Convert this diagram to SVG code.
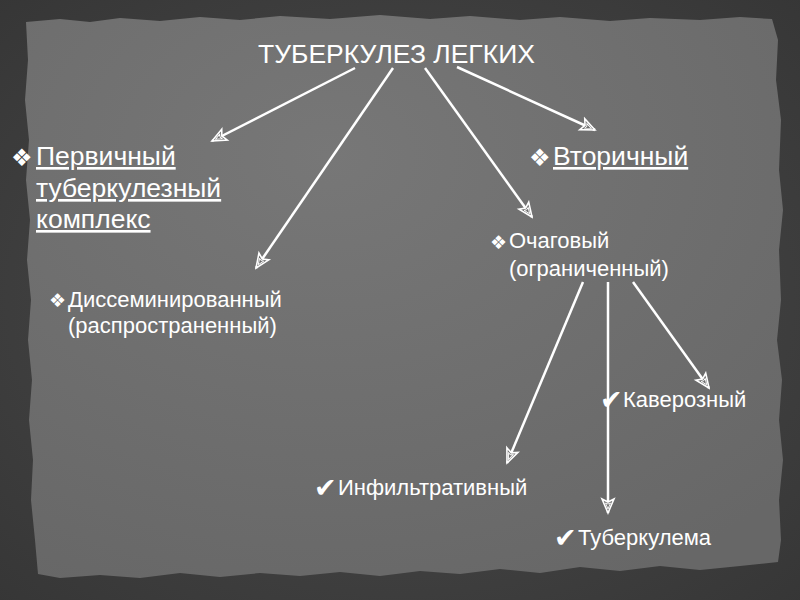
<svg xmlns="http://www.w3.org/2000/svg" width="800" height="600" viewBox="0 0 800 600">
<defs>
<radialGradient id="paper" cx="0.4" cy="0.25" r="0.85">
<stop offset="0" stop-color="#777777"/>
<stop offset="1" stop-color="#676767"/>
</radialGradient>
<radialGradient id="frame" cx="0.5" cy="0.5" r="0.75">
<stop offset="0" stop-color="#4c4c4c"/>
<stop offset="1" stop-color="#353535"/>
</radialGradient>
<marker id="arr" viewBox="-16 -8 18 16" refX="0" refY="0" markerWidth="18" markerHeight="16" markerUnits="userSpaceOnUse" orient="auto">
<path d="M0,0 L-14,-6 L-11,0 L-14,6 Z" fill="#6e6e6e" stroke="#ffffff" stroke-width="1.6" stroke-linejoin="miter"/>
<path d="M-4,0 L-10,-2.5 L-9,0 L-10,2.5 Z" fill="none" stroke="#ffffff" stroke-width="0.9"/>
</marker>
</defs>
<style>
text{font-family:"Liberation Sans",Arial,sans-serif;fill:#ffffff}
.sym{font-family:"DejaVu Sans",sans-serif}
.chk{font-family:"DejaVu Sans",sans-serif;font-size:27px}
.big{font-size:26.5px}
.mid{font-size:22px}
.u{text-decoration:underline}
.conn line{stroke:#ffffff;stroke-width:2.5;marker-end:url(#arr)}
</style>
<rect x="0" y="0" width="800" height="600" fill="url(#frame)"/>
<path d="M26,22 L60,19 L90,22 L120,18 L160,21 L200,17 L240,20 L280,16 L330,19 L380,15 L430,19 L470,16 L520,20 L560,17 L610,21 L650,18 L700,20 L740,17 L772,19 L778,40 L776,80 L781,120 L779,170 L783,210 L779,250 L781,300 L777,340 L782,380 L779,420 L783,460 L779,500 L781,540 L778,562 L740,566 L700,570 L660,566 L620,571 L580,567 L540,573 L500,569 L460,574 L420,571 L380,576 L340,572 L300,576 L260,573 L220,577 L180,573 L140,578 L100,575 L60,578 L38,574 L35,540 L31,500 L33,460 L29,420 L32,380 L28,340 L31,300 L27,260 L30,220 L26,180 L29,140 L25,100 L28,60 Z" fill="url(#paper)"/>
<g class="conn">
<line x1="355" y1="68" x2="212" y2="141"/>
<line x1="393" y1="68" x2="256" y2="268"/>
<line x1="425" y1="68" x2="532" y2="217"/>
<line x1="457" y1="67" x2="595" y2="130"/>
<line x1="583" y1="282" x2="507" y2="463"/>
<line x1="608" y1="282" x2="608" y2="513"/>
<line x1="633" y1="282" x2="709" y2="388"/>
</g>
<g id="root"><text class="big" x="258" y="63">ТУБЕРКУЛЕЗ ЛЕГКИХ</text></g>
<g id="primary">
<text class="sym" x="11" y="166" font-size="24">❖</text>
<text class="big u" x="36" y="165">Первичный</text>
<text class="big u" x="36" y="197">туберкулезный</text>
<text class="big u" x="36" y="228">комплекс</text>
</g>
<g id="secondary">
<text class="sym" x="529" y="166" font-size="24">❖</text>
<text class="big u" x="553" y="165">Вторичный</text>
</g>
<g id="focal">
<text class="sym" x="490" y="249" font-size="19">❖</text>
<text class="mid" x="509" y="248">Очаговый</text>
<text class="mid" x="509" y="276">(ограниченный)</text>
</g>
<g id="disseminated">
<text class="sym" x="49" y="307" font-size="19">❖</text>
<text class="mid" x="68" y="307">Диссеминированный</text>
<text class="mid" x="68" y="333">(распространенный)</text>
</g>
<g id="cavernous">
<text class="chk" x="600" y="409">✔</text>
<text class="mid" x="623" y="407">Каверозный</text>
</g>
<g id="infiltrative">
<text class="chk" x="314" y="497">✔</text>
<text class="mid" x="338" y="495">Инфильтративный</text>
</g>
<g id="tuberculoma">
<text class="chk" x="554" y="547">✔</text>
<text class="mid" x="578" y="545">Туберкулема</text>
</g>
</svg>
